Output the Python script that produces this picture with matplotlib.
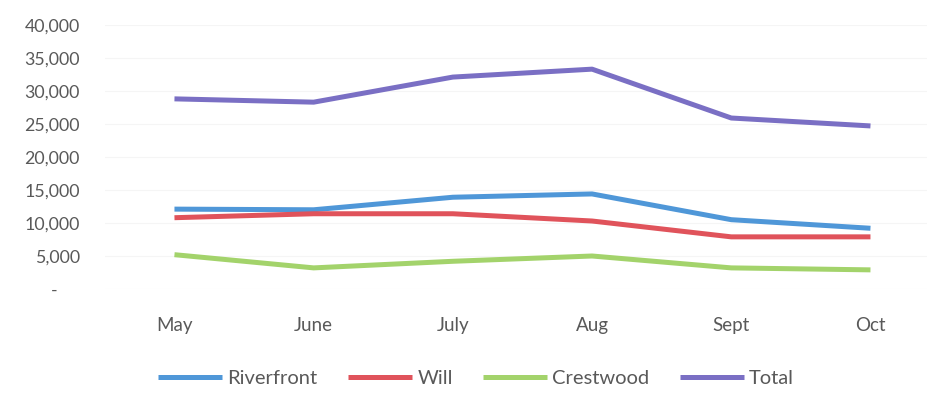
import matplotlib
matplotlib.use('Agg')
import matplotlib.pyplot as plt
from matplotlib.ticker import FuncFormatter

months = ['May', 'June', 'July', 'Aug', 'Sept', 'Oct']
riverfront = [12100, 12000, 13900, 14400, 10500, 9200]
will = [10800, 11400, 11400, 10300, 7900, 7900]
crestwood = [5200, 3200, 4200, 5000, 3200, 2900]
total = [28800, 28300, 32100, 33300, 25900, 24700]

plt.rcParams['font.family'] = ['Lato', 'DejaVu Sans']
txt = '#595959'

fig = plt.figure(figsize=(9.28, 3.93), dpi=100)
ax = fig.add_axes([0.113, 0.2646, 0.90, 0.672])

x = range(len(months))
ax.plot(x, riverfront, color='#4f97d8', lw=3.6, label='Riverfront', solid_capstyle='butt')
ax.plot(x, will, color='#e0535b', lw=3.6, label='Will', solid_capstyle='butt')
ax.plot(x, crestwood, color='#a3d36b', lw=3.6, label='Crestwood', solid_capstyle='butt')
ax.plot(x, total, color='#7a6fc4', lw=3.6, label='Total', solid_capstyle='butt')

ax.set_xlim(-0.5, 5.5)
ax.set_ylim(0, 40000)
ax.set_yticks(range(0, 40001, 5000))
ax.yaxis.set_major_formatter(FuncFormatter(lambda v, p: '-     ' if v == 0 else f'{int(v):,}'))
ax.set_xticks(list(x))
ax.set_xticklabels(months)
ax.tick_params(axis='y', length=0, pad=18, labelsize=12.8, labelcolor=txt)
ax.tick_params(axis='x', length=0, pad=20, labelsize=13.5, labelcolor=txt)
ax.grid(axis='y', color='#f5f5f5', lw=0.8)
ax.set_axisbelow(True)
for s in ax.spines.values():
    s.set_visible(False)

# legend row under the month labels
fig.legend(loc='lower center', bbox_to_anchor=(0.513, -0.03), ncol=4, frameon=False,
           fontsize=14.5, labelcolor=txt, handlelength=3.2, handletextpad=0.25,
           columnspacing=1.5)

fig.savefig('out.png', dpi=100)
